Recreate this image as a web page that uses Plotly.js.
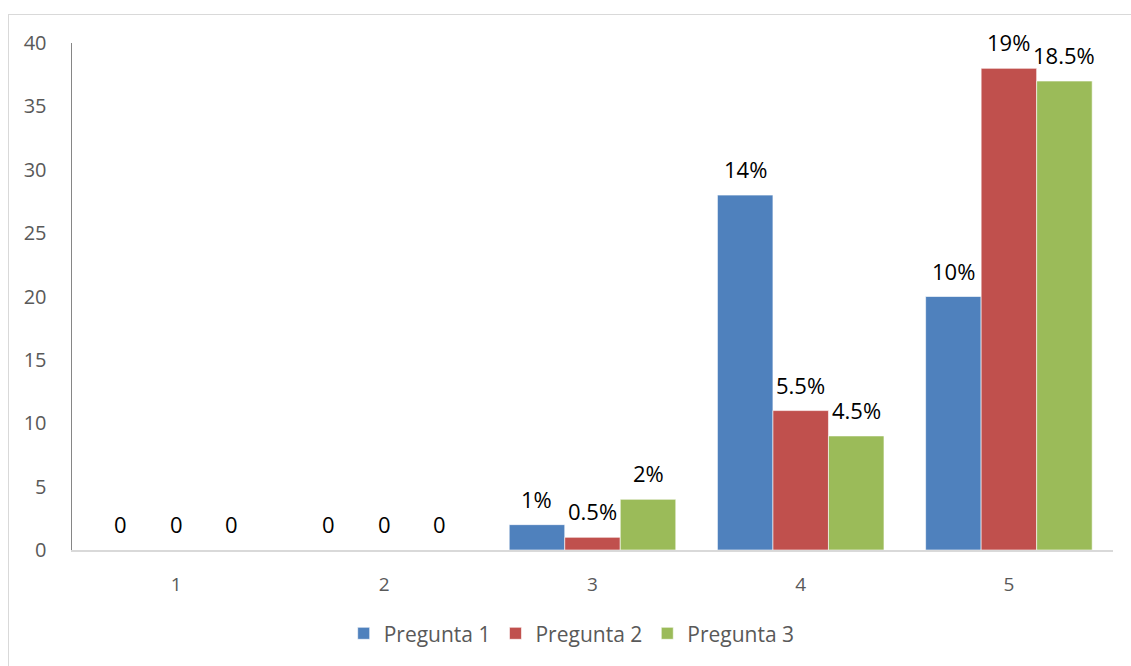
<!DOCTYPE html>
<html>
<head>
<meta charset="utf-8">
<script src="https://cdn.plot.ly/plotly-3.0.1.min.js"></script>
<style>
  html, body { margin: 0; padding: 0; background: #fff; }
  #chart { width: 1131px; height: 666px; position: relative; }
  #frame { position: absolute; left: 8px; top: 14px; width: 1200px; height: 700px;
           border-left: 1.5px solid #d9d9d9; border-top: 1.5px solid #d9d9d9;
           pointer-events: none; box-sizing: border-box; }
</style>
</head>
<body>
<div id="chart"></div>
<div id="frame"></div>
<script>
// Response scale (1..5) and counts per question
const categories = [1, 2, 3, 4, 5];
const seriesNames = ["Pregunta 1", "Pregunta 2", "Pregunta 3"];
const pregunta1 = [0, 0, 2, 28, 20];
const pregunta2 = [0, 0, 1, 11, 38];
const pregunta3 = [0, 0, 4, 9, 37];
const labels1 = ["0", "0", "1%", "14%", "10%"];
const labels2 = ["0", "0", "0.5%", "5.5%", "19%"];
const labels3 = ["0", "0", "2%", "4.5%", "18.5%"];
const colors = ["#4F81BD", "#C0504D", "#9BBB59"];

const values = [pregunta1, pregunta2, pregunta3];
const labels = [labels1, labels2, labels3];

const bargap = 0.2;
const barWidth = (1 - bargap) / values.length;
const FONT = "Open Sans, sans-serif";

const traces = values.map((v, j) => ({
  type: "bar",
  name: seriesNames[j],
  x: categories,
  y: v,
  marker: { color: colors[j], line: { color: "rgba(255,255,255,0.6)", width: 1 } },
  hoverinfo: "x+y+name"
}));

// Value labels above each bar, offset to their bar within the group
const annotations = [];
values.forEach((v, j) => {
  const off = (j - (values.length - 1) / 2) * barWidth;
  v.forEach((val, i) => {
    annotations.push({
      x: categories[i] + off,
      y: val,
      xref: "x", yref: "y",
      text: labels[j][i],
      showarrow: false,
      yanchor: "bottom",
      yshift: 9,
      font: { family: FONT, size: 22, color: "#000" }
    });
  });
});

const layout = {
  width: 1131,
  height: 666,
  margin: { l: 72, r: 18, t: 43, b: 114 },
  paper_bgcolor: "#fff",
  plot_bgcolor: "#fff",
  barmode: "group",
  bargap: bargap,
  bargroupgap: 0,
  showlegend: true,
  legend: {
    orientation: "h",
    x: 0.48, xanchor: "center",
    y: -0.165, yanchor: "middle",
    font: { family: FONT, size: 21, color: "#595959" },
    itemclick: false
  },
  xaxis: {
    type: "linear",
    range: [0.5, 5.5],
    tickvals: categories,
    ticktext: categories.map(String),
    showgrid: false,
    zeroline: false,
    showline: true,
    linecolor: "#d9d9d9",
    linewidth: 2,
    ticks: "",
    ticklabelstandoff: 16,
    tickfont: { family: FONT, size: 19, color: "#595959" }
  },
  yaxis: {
    range: [0, 40],
    dtick: 5,
    showgrid: false,
    zeroline: false,
    showline: true,
    linecolor: "#868686",
    linewidth: 1.5,
    ticks: "",
    ticklabelstandoff: 20,
    tickfont: { family: FONT, size: 20, color: "#595959" }
  },
  annotations: annotations
};

Plotly.newPlot("chart", traces, layout, { displayModeBar: false, staticPlot: true });
</script>
</body>
</html>
